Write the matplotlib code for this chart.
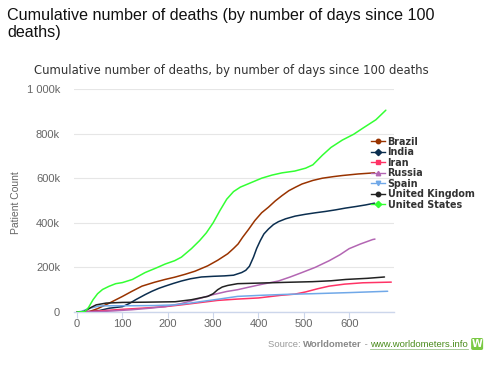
import matplotlib
matplotlib.use("Agg")
import matplotlib.pyplot as plt
from matplotlib.lines import Line2D
from matplotlib.patches import FancyBboxPatch

# ---- data (days since 100 deaths, cumulative deaths in thousands) ----
us_days = [0, 17, 25, 35, 45, 56, 70, 85, 100, 122, 150, 175, 194, 215, 230, 252, 270, 285, 300, 315, 330, 345, 360, 380, 407, 430, 452, 480, 504, 520, 541, 560, 585, 610, 630, 659, 681]
us_vals = [0, 2, 20, 55, 82, 101, 115, 127, 132, 146, 177, 198, 215, 230, 246, 284, 320, 355, 400, 455, 506, 540, 560, 577, 600, 614, 624, 632, 645, 660, 703, 738, 771, 797, 824, 862, 905]

br_days = [0, 15, 27, 45, 71, 100, 120, 143, 170, 194, 215, 238, 260, 288, 310, 332, 345, 355, 365, 378, 392, 407, 422, 437, 452, 467, 482, 496, 520, 541, 565, 585, 620, 656]
br_vals = [0, 0, 2, 15, 40, 70, 92, 116, 133, 146, 156, 169, 183, 207, 232, 261, 285, 305, 335, 370, 410, 445, 470, 498, 522, 544, 560, 574, 590, 600, 607, 612, 619, 624]

in_days = [0, 30, 50, 71, 100, 115, 129, 150, 165, 180, 194, 212, 230, 250, 274, 300, 325, 345, 363, 372, 380, 389, 396, 404, 412, 422, 433, 444, 460, 481, 503, 526, 548, 570, 592, 615, 636, 656]
in_vals = [0, 2, 7, 17, 24, 38, 55, 78, 93, 106, 116, 128, 139, 149, 157, 160, 162, 165, 177, 187, 205, 246, 285, 320, 350, 372, 392, 405, 418, 430, 438, 445, 451, 458, 466, 473, 480, 488]

ir_days = [0, 50, 100, 150, 194, 230, 274, 310, 354, 400, 450, 480, 504, 530, 556, 590, 630, 693]
ir_vals = [0, 5, 12, 18, 24, 32, 43, 52, 58, 63, 75, 80, 90, 104, 116, 125, 131, 134]

ru_days = [0, 40, 80, 120, 160, 194, 230, 274, 300, 330, 354, 380, 407, 444, 470, 496, 525, 556, 580, 600, 625, 652, 657]
ru_vals = [0, 1, 5, 10, 17, 24, 38, 63, 78, 92, 100, 112, 124, 139, 157, 177, 200, 230, 257, 284, 305, 325, 327]

es_days = [0, 10, 25, 49, 80, 120, 170, 216, 250, 274, 310, 354, 407, 460, 519, 600, 685]
es_vals = [0, 3, 15, 27, 28, 28, 29, 32, 40, 47, 57, 70, 75, 79, 82, 87, 93]

uk_days = [0, 15, 30, 42, 64, 100, 150, 216, 252, 288, 300, 310, 320, 332, 354, 407, 460, 519, 560, 593, 640, 678]
uk_vals = [0, 2, 20, 32, 40, 43, 44, 46, 55, 70, 82, 100, 112, 119, 127, 130, 133, 136, 140, 146, 151, 157]

series = [
    ("Brazil", br_days, br_vals, "#993300", "o"),
    ("India", in_days, in_vals, "#0b2e4f", "D"),
    ("Iran", ir_days, ir_vals, "#ff3366", "s"),
    ("Russia", ru_days, ru_vals, "#b366b3", "^"),
    ("Spain", es_days, es_vals, "#70a8e8", "v"),
    ("United Kingdom", uk_days, uk_vals, "#222222", "o"),
    ("United States", us_days, us_vals, "#33ff33", "D"),
]

y_ticks = [0, 200, 400, 600, 800, 1000]
y_tick_labels = ["0", "200k", "400k", "600k", "800k", "1 000k"]
x_ticks = [0, 100, 200, 300, 400, 500, 600]

fig = plt.figure(figsize=(5, 3.9), dpi=100)
ax = fig.add_axes([74/500, 1-312/390, (394-74)/500, (312-89)/390])

for name, d, v, c, m in series:
    ax.plot(d, [x * 1000 for x in v], color=c, lw=1.1, solid_capstyle="round", zorder=3)

ax.set_xlim(-7, 699)
ax.set_ylim(0, 1000000)
ax.set_yticks([t * 1000 for t in y_ticks])
ax.set_yticklabels(y_tick_labels)
ax.set_xticks(x_ticks)
ax.grid(axis="y", color="#e6e6e6", lw=0.8, zorder=0)
for s in ["top", "right", "left"]:
    ax.spines[s].set_visible(False)
ax.spines["bottom"].set_color("#ccd6eb")
ax.spines["bottom"].set_linewidth(1.0)
ax.tick_params(axis="y", length=0, pad=10, labelsize=8, labelcolor="#666666")
ax.tick_params(axis="x", length=4, color="#ccd6eb", pad=1, labelsize=8, labelcolor="#666666")
for lab in ax.get_xticklabels() + ax.get_yticklabels():
    lab.set_fontfamily("Liberation Sans")
ax.set_ylabel("Patient Count", fontsize=7.5, color="#666666", fontfamily="Liberation Sans")
ax.yaxis.set_label_coords(-53/320, 0.49)

handles = [Line2D([0], [0], color=c, marker=m, markersize=3.2, lw=1.0) for _, _, _, c, m in series]
labels = [s[0] for s in series]
leg = fig.legend(handles, labels, loc="upper left", bbox_to_anchor=(366/500, 1-132/390),
                 frameon=False, handlelength=1.45, handletextpad=0.3, labelspacing=0.05,
                 borderpad=0, prop={"family": "DejaVu Sans", "weight": "bold", "size": 6.9})
for t in leg.get_texts():
    t.set_color("#333333")

fig.text(7/500, 1-20/390, "Cumulative number of deaths (by number of days since 100",
         fontsize=11.6, fontfamily="Liberation Sans", color="#111111", va="baseline")
fig.text(7/500, 1-37/390, "deaths)", fontsize=11.6, fontfamily="Liberation Sans",
         color="#111111", va="baseline")
fig.text(231/500, 1-74/390, "Cumulative number of deaths, by number of days since 100 deaths",
         fontsize=8.4, fontfamily="DejaVu Sans", color="#333333", ha="center", va="baseline")

# source line, pieces laid out one after another
renderer = fig.canvas.get_renderer()
x0 = 268
ybase = 1 - 347/390
pieces = [("Source: ", "normal", "#999999"), ("Worldometer", "bold", "#888888"),
          (" - ", "normal", "#999999"), ("www.worldometers.info", "normal", "#4a8c1c")]
link_start = None
for txt, w, col in pieces:
    if txt.startswith("www"):
        link_start = x0
    t = fig.text(x0/500, ybase, txt.replace(" ", "\u00a0"), fontsize=6.8, fontfamily="Liberation Sans",
                 weight=w, color=col, va="baseline")
    bb = t.get_window_extent(renderer)
    x0 += bb.width
fig.add_artist(Line2D([link_start/500, x0/500], [1-349/390, 1-349/390], color="#9cc48a", lw=0.6))
fig.add_artist(FancyBboxPatch(((x0 + 3)/500, 1-350/390), 12/500, 12/390,
                              boxstyle="round,pad=0,rounding_size=0.004",
                              facecolor="#7ac943", edgecolor="none", transform=fig.transFigure))
fig.text((x0 + 9)/500, 1-344/390, "W", fontsize=7, fontfamily="DejaVu Sans", weight="bold",
         color="white", ha="center", va="center")

fig.savefig("out.png", dpi=100, facecolor="white")
